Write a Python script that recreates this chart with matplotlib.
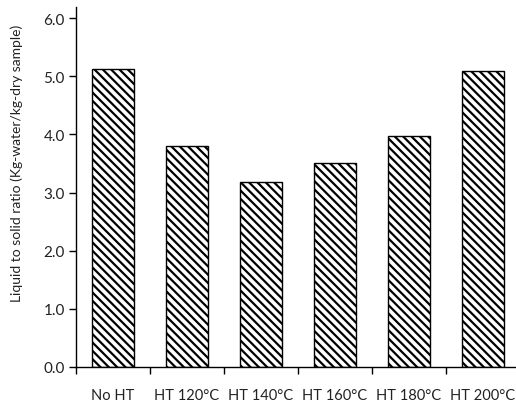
import matplotlib
matplotlib.use("Agg")
import matplotlib.pyplot as plt
import numpy as np

categories = ["No HT", "HT 120°C", "HT 140°C", "HT 160°C", "HT 180°C", "HT 200°C"]
values = [5.12, 3.80, 3.18, 3.51, 3.98, 5.09]
yticks = [0.0, 1.0, 2.0, 3.0, 4.0, 5.0, 6.0]

plt.rcParams['font.family'] = ['Lato', 'DejaVu Sans']
plt.rcParams['hatch.linewidth'] = 1.6

fig = plt.figure(figsize=(5.16, 4.02), dpi=100)
ax = fig.add_axes([0.147, 0.0846, 0.853, 0.8954])

x = np.arange(len(categories))
ax.bar(x, values, width=0.56, color='white', edgecolor='black', linewidth=1.0,
       hatch='\\\\\\\\')
ax.set_xlim(-0.5, 5.446)
ax.set_ylim(0, 6.19)
ax.set_yticks(yticks)
ax.set_yticklabels([f"{v:.1f}" for v in yticks], fontsize=11, color='#222222')
ax.set_xticks(x)
ax.set_xticklabels(categories, fontsize=10.5, color='#222222')
ax.set_xticks(np.arange(len(categories)) - 0.5, minor=True)
ax.tick_params(axis='x', which='major', length=0, pad=15)
ax.tick_params(axis='x', which='minor', length=5, width=1.0, direction='out')
ax.tick_params(axis='y', length=5, width=1.0, direction='out', pad=3)
for s in ['top', 'right']:
    ax.spines[s].set_visible(False)
ax.spines['left'].set_linewidth(1.0)
ax.spines['bottom'].set_linewidth(1.0)
ax.set_ylabel("Liquid to solid ratio (Kg-water/kg-dry sample)", fontsize=10, color='#222222')
ax.yaxis.set_label_coords(-0.12, 0.569)

fig.savefig("out.png", dpi=100)
